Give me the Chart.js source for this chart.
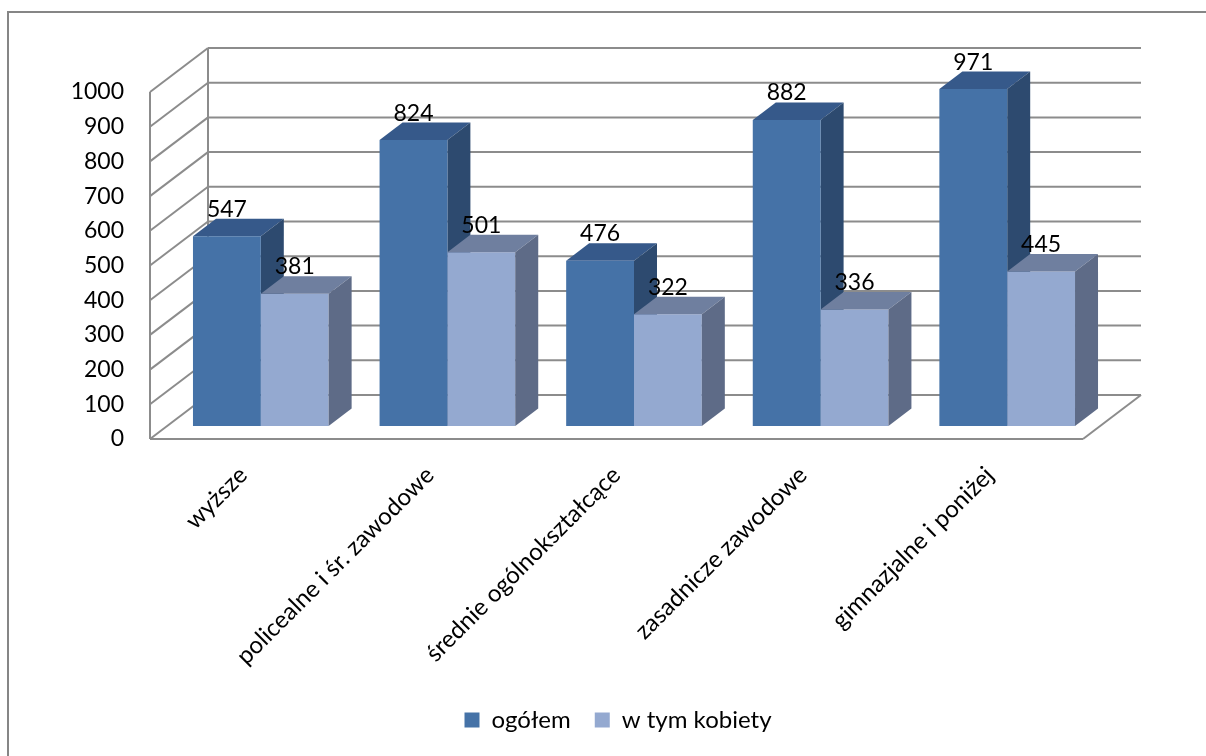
<!DOCTYPE html>
<html>
<head>
<meta charset="utf-8">
<script src="https://cdn.jsdelivr.net/npm/chart.js@4.4.1/dist/chart.umd.min.js"></script>
<style>
  html, body { margin: 0; padding: 0; background: #fff; }
  canvas { display: block; }
</style>
</head>
<body>
<canvas id="chart" width="1206" height="756"></canvas>
<script>
// ── data ──────────────────────────────────────────────────────────────
const categories = ['wyższe', 'policealne i śr. zawodowe', 'średnie ogólnokształcące', 'zasadnicze zawodowe', 'gimnazjalne i poniżej'];
const seriesNames = ['ogółem', 'w tym kobiety'];
const totalValues = [547, 824, 476, 882, 971];
const womenValues = [381, 501, 322, 336, 445];
const yTicksMin = 0, yTicksMax = 1000, yTicksStep = 100;

// ── 3d look ───────────────────────────────────────────────────────────
const WALL  = { dx: 58,   dy: -44 };   // back wall offset
const SHIFT = { dx: 17.5, dy: -13 };   // bars sit a bit behind the front edge
const DEPTH = { dx: 23,   dy: -17.5 }; // depth of each bar
const GRID  = '#8c8c8c';
const COLORS = [
  { front: '#4572a7', top: '#36598a', side: '#2d4a6f' },
  { front: '#94a9d0', top: '#6f7f9f', side: '#5e6b87' },
];
const FONT = 'Lato, "Open Sans", sans-serif';

function line(ctx, x1, y1, x2, y2) {
  ctx.beginPath(); ctx.moveTo(x1, y1); ctx.lineTo(x2, y2); ctx.stroke();
}

function poly(ctx, pts, color) {
  ctx.beginPath();
  ctx.moveTo(pts[0][0], pts[0][1]);
  for (let i = 1; i < pts.length; i++) ctx.lineTo(pts[i][0], pts[i][1]);
  ctx.closePath();
  ctx.fillStyle = color;
  ctx.fill();
}

function extrude(chart, dsIndex) {
  const ctx = chart.ctx;
  const c = COLORS[dsIndex];
  chart.getDatasetMeta(dsIndex).data.forEach(bar => {
    const { x, y, base, width } = bar.getProps(['x', 'y', 'base', 'width'], true);
    const x0 = x - width / 2, x1 = x + width / 2;
    poly(ctx, [[x0, y], [x1, y], [x1 + DEPTH.dx, y + DEPTH.dy], [x0 + DEPTH.dx, y + DEPTH.dy]], c.top);
    poly(ctx, [[x1, y], [x1 + DEPTH.dx, y + DEPTH.dy], [x1 + DEPTH.dx, base + DEPTH.dy], [x1, base]], c.side);
  });
}

const frame = {
  id: 'frame',
  beforeDraw(chart) {
    const ctx = chart.ctx;
    ctx.save();
    ctx.strokeStyle = '#868686';
    ctx.lineWidth = 2;
    ctx.strokeRect(8, 12, chart.width + 10, chart.height + 10);
    ctx.restore();
  },
};

const walls3d = {
  id: 'walls3d',
  beforeDatasetsDraw(chart) {
    const { ctx, chartArea: a, scales: { y } } = chart;
    ctx.save();
    ctx.strokeStyle = GRID;
    ctx.lineWidth = 2;
    y.ticks.forEach(t => {
      const py = y.getPixelForValue(t.value);
      line(ctx, a.left, py, a.left + WALL.dx, py + WALL.dy);
      line(ctx, a.left + WALL.dx, py + WALL.dy, a.right + WALL.dx, py + WALL.dy);
    });
    line(ctx, a.left, a.top, a.left, a.bottom);
    line(ctx, a.left + WALL.dx, a.top + WALL.dy, a.left + WALL.dx, a.bottom + WALL.dy);
    line(ctx, a.left, a.bottom, a.right, a.bottom);
    line(ctx, a.right, a.bottom, a.right + WALL.dx, a.bottom + WALL.dy);
    ctx.restore();

    // bars are drawn shifted into the depth of the floor
    ctx.save();
    ctx.translate(SHIFT.dx, SHIFT.dy);
    extrude(chart, 0);
  },
  afterDatasetsDraw(chart) {
    const ctx = chart.ctx;
    extrude(chart, 1);
    ctx.fillStyle = '#000';
    ctx.font = '23px ' + FONT;
    ctx.textAlign = 'center';
    ctx.textBaseline = 'alphabetic';
    chart.data.datasets.forEach((ds, i) => {
      chart.getDatasetMeta(i).data.forEach((bar, j) => {
        const { x, y } = bar.getProps(['x', 'y'], true);
        ctx.fillText(String(ds.data[j]), x, y + DEPTH.dy - 2);
      });
    });
    ctx.restore();
  },
};

new Chart(document.getElementById('chart'), {
  type: 'bar',
  data: {
    labels: categories,
    datasets: [
      { label: seriesNames[0], data: totalValues, backgroundColor: COLORS[0].front, borderWidth: 0, clip: false },
      { label: seriesNames[1], data: womenValues, backgroundColor: COLORS[1].front, borderWidth: 0, clip: false },
    ],
  },
  options: {
    responsive: false,
    animation: false,
    events: [],
    layout: { padding: { top: 92, right: 0, bottom: 14, left: 30 } },
    datasets: { bar: { categoryPercentage: 0.727, barPercentage: 1 } },
    scales: {
      x: {
        grid: { display: false },
        border: { display: false },
        ticks: {
          autoSkip: false, minRotation: 45, maxRotation: 45, padding: 14,
          color: '#000', font: { family: FONT, size: 24 },
        },
        afterFit: s => { s.height = 245; },
      },
      y: {
        min: yTicksMin, max: yTicksMax,
        grid: { display: false, drawTicks: false },
        border: { display: false },
        ticks: { stepSize: yTicksStep, padding: 26, color: '#000', font: { family: FONT, size: 23 }, callback: v => String(v) },
        afterFit: s => { s.width = 120; },
      },
      // empty axis, only keeps the room on the right of the floor
      spacer: {
        position: 'right',
        grid: { display: false },
        border: { display: false },
        ticks: { display: false },
        afterFit: s => { s.width = 123; },
      },
    },
    plugins: {
      legend: {
        position: 'bottom',
        labels: { boxWidth: 15, boxHeight: 15, padding: 24, color: '#000', font: { family: FONT, size: 24 } },
      },
      tooltip: { enabled: false },
    },
  },
  plugins: [frame, walls3d],
});
</script>
</body>
</html>
